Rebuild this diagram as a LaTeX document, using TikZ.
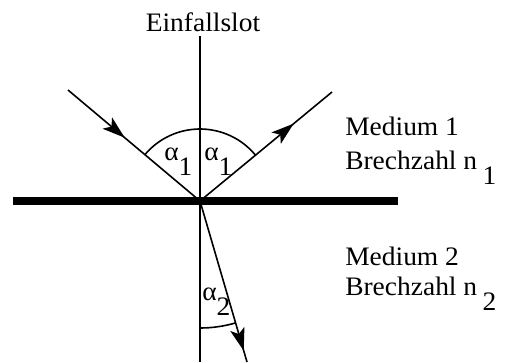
\documentclass[tikz,border=0pt]{standalone}
\usepackage{fontspec}
\setmainfont{Liberation Serif}[FakeStretch=1.03]
\usepackage{tikz}
\usetikzlibrary{arrows.meta, decorations.markings}
\newcommand{\lowsub}[1]{\raisebox{-0.58em}{#1}}

\begin{document}
\begin{tikzpicture}[x=0.75pt, y=0.75pt,
    ray/.style={line width=1.2pt, color=black},
    midarrow/.style={postaction={decorate}, decoration={markings, mark=at position #1 with {\arrow{Stealth[length=17pt, width=11pt, inset=4pt]}}}},
    surface/.style={line width=6pt},
    anglearc/.style={line width=1.2pt},
    lbl/.style={font=\fontsize{20}{24}\selectfont, inner sep=0pt}
]
\useasboundingbox (0,0) rectangle (506,362);

% Punkte
\coordinate (O) at (200,161);
\coordinate (lottop) at (200,326);
\coordinate (lotbot) at (200,0);
\coordinate (barL) at (13,161);
\coordinate (barR) at (398,161);
\coordinate (src) at (68,272);
\coordinate (refl) at (332,270);
\coordinate (refr) at (247,0);

% Grenzflaeche und Lot
\draw[surface] (barL) -- (barR);
\draw[ray] (lottop) -- (lotbot);

% Strahlen
\draw[ray, midarrow=0.43] (src) -- (O);
\draw[ray, midarrow=0.71] (O) -- (refl);
\draw[ray, midarrow=0.93] (O) -- (refr);

% Winkel
\draw[anglearc] (O) ++(39.5:72) arc[start angle=39.5, end angle=139.9, radius=72];
\draw[anglearc] (O) ++(270:127) arc[start angle=270, end angle=286.3, radius=127];

% Beschriftung
\node[lbl, anchor=base] (lot) at (203,331) {Einfallslot};
\node[lbl, anchor=base west] (med1) at (345,227) {Medium 1};
\node[lbl, anchor=base west] (bz1) at (345,193) {Brechzahl n\hspace{0.2em}\lowsub{1}};
\node[lbl, anchor=base west] (med2) at (345,97) {Medium 2};
\node[lbl, anchor=base west] (bz2) at (345,67) {Brechzahl n\hspace{0.2em}\lowsub{2}};
\node[lbl, anchor=base west] (a1l) at (164,202) {α\lowsub{1}};
\node[lbl, anchor=base west] (a1r) at (204,202) {α\lowsub{1}};
\node[lbl, anchor=base west] (a2) at (202,62) {α\lowsub{2}};

\end{tikzpicture}
\end{document}
